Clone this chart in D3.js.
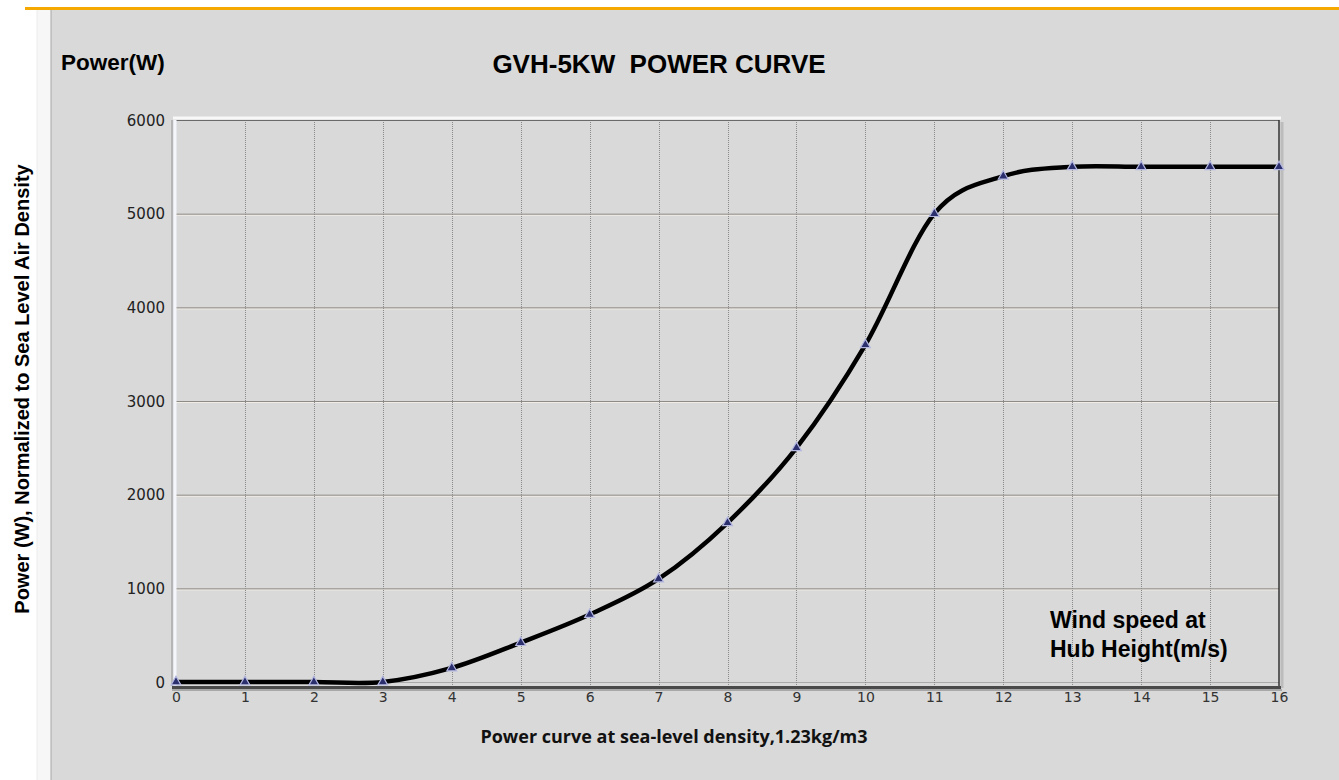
<!DOCTYPE html>
<html>
<head>
<meta charset="utf-8">
<script src="https://cdn.jsdelivr.net/npm/d3@7"></script>
<style>
  html, body { margin: 0; padding: 0; background: #fff; }
  svg { display: block; }
</style>
</head>
<body>
<script>
// wind speed (m/s) and power (W)
const windSpeed = [0, 1, 2, 3, 4, 5, 6, 7, 8, 9, 10, 11, 12, 13, 14, 15, 16];
const power = [0, 0, 0, 0, 150, 420, 720, 1100, 1700, 2500, 3600, 5000, 5400, 5500, 5500, 5500, 5500];
const yTicks = [0, 1000, 2000, 3000, 4000, 5000, 6000];

const data = windSpeed.map((s, i) => ({ s, p: power[i] }));

const W = 1339;
const H = 780;

const svg = d3.select("body").append("svg").attr("width", W).attr("height", H);

// page frame
svg.append("rect").attr("x", 0).attr("y", 0).attr("width", W).attr("height", H).attr("fill", "#fff");
svg.append("rect").attr("x", 37).attr("y", 10).attr("width", 14).attr("height", H - 10).attr("fill", "#f7f7f7");
svg.append("line").attr("x1", 37).attr("x2", 37).attr("y1", 10).attr("y2", H).attr("stroke", "#ececec");
svg.append("rect").attr("x", 51).attr("y", 10).attr("width", W - 51).attr("height", H - 10).attr("fill", "#d9d9d9");
svg.append("line").attr("x1", 51).attr("x2", 51).attr("y1", 10).attr("y2", H).attr("stroke", "#a8a8a8");
svg.append("rect").attr("x", 25).attr("y", 7).attr("width", W - 25).attr("height", 3).attr("fill", "#f5a800");

const x = d3.scaleLinear().domain([0, 16]).range([176, 1279]);
const y = d3.scaleLinear().domain([0, 6000]).range([682, 120]);

// horizontal grid
const hg = svg.append("g");
hg.selectAll("line.lo")
  .data(yTicks.filter((d) => d > 0 && d < 6000))
  .join("line")
  .attr("x1", x(0)).attr("x2", x(16))
  .attr("y1", (d) => y(d) + 1.5).attr("y2", (d) => y(d) + 1.5)
  .attr("stroke", "#f0ece6").attr("stroke-width", 1.2);
hg.selectAll("line.hi")
  .data(yTicks.filter((d) => d > 0 && d < 6000))
  .join("line")
  .attr("x1", x(0)).attr("x2", x(16))
  .attr("y1", (d) => y(d) + 0.5).attr("y2", (d) => y(d) + 0.5)
  .attr("stroke", "#8e8a85").attr("stroke-width", 1);
svg.append("line")
  .attr("x1", x(0)).attr("x2", x(16))
  .attr("y1", y(0) + 0.5).attr("y2", y(0) + 0.5)
  .attr("stroke", "#aaa").attr("stroke-width", 1);

// vertical grid (dotted)
svg.append("g").selectAll("line")
  .data(windSpeed.filter((d) => d > 0 && d < 16))
  .join("line")
  .attr("x1", (d) => Math.round(x(d)) + 0.5).attr("x2", (d) => Math.round(x(d)) + 0.5)
  .attr("y1", y(6000)).attr("y2", y(0) + 4)
  .attr("stroke", "#8a8a8a").attr("stroke-width", 1)
  .attr("stroke-dasharray", "1,1");

// plot frame
svg.append("line").attr("x1", x(0) - 3).attr("x2", x(16) + 2)
  .attr("y1", y(6000) - 2).attr("y2", y(6000) - 2).attr("stroke", "#f8f8f8").attr("stroke-width", 3);
svg.append("line").attr("x1", x(0)).attr("x2", x(16))
  .attr("y1", y(6000) + 0.5).attr("y2", y(6000) + 0.5).attr("stroke", "#6a6a6a").attr("stroke-width", 1.2);
svg.append("line").attr("x1", x(16) + 3).attr("x2", x(16) + 3)
  .attr("y1", y(6000) + 2).attr("y2", y(0) + 6).attr("stroke", "#bcbcbc").attr("stroke-width", 3);
svg.append("line").attr("x1", x(16)).attr("x2", x(16))
  .attr("y1", y(6000)).attr("y2", y(0) + 4).attr("stroke", "#333").attr("stroke-width", 1.5);
svg.append("line").attr("x1", x(0) - 4).attr("x2", x(0) - 4)
  .attr("y1", y(6000)).attr("y2", y(0) + 4).attr("stroke", "#b5b5b5").attr("stroke-width", 2);
svg.append("line").attr("x1", x(0) - 1).attr("x2", x(0) - 1)
  .attr("y1", y(6000)).attr("y2", y(0) + 4).attr("stroke", "#f4f6fb").attr("stroke-width", 3);
svg.append("line").attr("x1", x(0) - 4).attr("x2", x(16) + 3)
  .attr("y1", y(0) + 8).attr("y2", y(0) + 8).attr("stroke", "#a8a8a8").attr("stroke-width", 2);
svg.append("line").attr("x1", x(0) - 4).attr("x2", x(16) + 2)
  .attr("y1", y(0) + 5.5).attr("y2", y(0) + 5.5).attr("stroke", "#4a4a4a").attr("stroke-width", 3);

// axes labels
const yAxis = d3.axisLeft(y).tickValues(yTicks).tickSize(0).tickPadding(0).tickFormat(d3.format("d"));
const gy = svg.append("g").attr("transform", "translate(165,0)").call(yAxis);
gy.select(".domain").remove();
gy.selectAll("text").attr("font-family", "DejaVu Sans").attr("font-size", 15).attr("fill", "#222").attr("dy", "0.35em");

const xAxis = d3.axisBottom(x).tickValues(windSpeed).tickSize(0).tickPadding(0);
const gx = svg.append("g").attr("transform", "translate(0,691)").call(xAxis);
gx.select(".domain").remove();
gx.selectAll("text").attr("font-family", "DejaVu Sans").attr("font-size", 14).attr("fill", "#333").attr("dy", "0.75em");

// curve
const line = d3.line()
  .x((d) => x(d.s))
  .y((d) => y(d.p))
  .curve(d3.curveCatmullRom.alpha(0));
svg.append("path").datum(data)
  .attr("d", line)
  .attr("fill", "none")
  .attr("stroke", "#000")
  .attr("stroke-width", 4.5)
  .attr("stroke-linejoin", "round");

// markers
svg.append("g").selectAll("path")
  .data(data)
  .join("path")
  .attr("transform", (d) => `translate(${x(d.s)},${y(d.p)})`)
  .attr("d", d3.symbol(d3.symbolTriangle, 42))
  .attr("fill", "#2b2f6e")
  .attr("stroke", "#b4b8e0")
  .attr("stroke-width", 1.2);

// texts
const bold = (sel) => sel.attr("font-family", "Liberation Sans, Arial, sans-serif").attr("font-weight", "bold").attr("fill", "#000");

svg.append("text").attr("x", 659).attr("y", 73).attr("text-anchor", "middle")
  .attr("font-size", 26).call(bold).attr("xml:space", "preserve")
  .text("GVH-5KW  POWER CURVE");

svg.append("text").attr("x", 61).attr("y", 70).attr("font-size", 22.5).call(bold).text("Power(W)");

svg.append("text")
  .attr("transform", "translate(29,389) rotate(-90)")
  .attr("text-anchor", "middle")
  .attr("font-size", 20).call(bold)
  .text("Power (W), Normalized to Sea Level Air Density");

svg.append("text").attr("x", 674).attr("y", 743).attr("text-anchor", "middle")
  .attr("font-family", "Open Sans, Lato, sans-serif").attr("font-weight", "bold")
  .attr("font-size", 18).attr("fill", "#111")
  .text("Power curve at sea-level density,1.23kg/m3");

const note = svg.append("text").attr("font-size", 23).call(bold);
note.append("tspan").attr("x", 1050).attr("y", 628).text("Wind speed at");
note.append("tspan").attr("x", 1050).attr("y", 657).text("Hub Height(m/s)");
</script>
</body>
</html>
